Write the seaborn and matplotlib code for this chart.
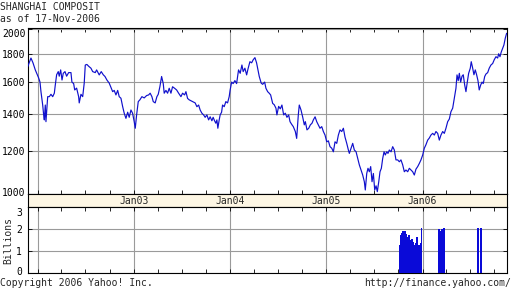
import numpy as np
import pandas as pd
import matplotlib
matplotlib.use("Agg")
import matplotlib.pyplot as plt
import matplotlib.dates as mdates
import matplotlib.ticker as mticker
from matplotlib.transforms import ScaledTranslation, blended_transform_factory
import seaborn as sns

sns.set_style("white")
plt.rcParams["font.family"] = ["DejaVu Sans Mono"]
plt.rcParams["font.size"] = 7

title = "SHANGHAI COMPOSIT"
subtitle = "as of 17-Nov-2006"
copyright_text = "Copyright 2006 Yahoo! Inc."
url_text = "http://finance.yahoo.com/"

# decimal-year time stamps and index closes
price_time = [
    2001.895, 2001.929, 2001.950, 2001.974, 2002.009, 2002.023, 2002.033, 2002.051, 2002.061, 2002.068,
    2002.078, 2002.085, 2002.103, 2002.120, 2002.137, 2002.155, 2002.172, 2002.182, 2002.196, 2002.213,
    2002.223, 2002.238, 2002.252, 2002.265, 2002.283, 2002.300, 2002.321, 2002.345, 2002.355, 2002.373,
    2002.384, 2002.404, 2002.425, 2002.431, 2002.449, 2002.467, 2002.483, 2002.494, 2002.511, 2002.529,
    2002.553, 2002.571, 2002.598, 2002.612, 2002.639, 2002.660, 2002.681, 2002.699, 2002.719, 2002.743,
    2002.779, 2002.795, 2002.813, 2002.831, 2002.847, 2002.865, 2002.883, 2002.899, 2002.917, 2002.935,
    2002.951, 2002.969, 2002.986, 2003.003, 2003.014, 2003.028, 2003.045, 2003.062, 2003.083, 2003.107,
    2003.132, 2003.153, 2003.169, 2003.187, 2003.201, 2003.221, 2003.239, 2003.253, 2003.270, 2003.288,
    2003.305, 2003.315, 2003.333, 2003.350, 2003.367, 2003.385, 2003.402, 2003.423, 2003.444, 2003.465,
    2003.489, 2003.506, 2003.527, 2003.541, 2003.558, 2003.575,
    2003.610, 2003.637, 2003.655, 2003.673, 2003.689, 2003.707, 2003.725, 2003.741, 2003.759, 2003.777,
    2003.793, 2003.811, 2003.824, 2003.839, 2003.852, 2003.863, 2003.873, 2003.887, 2003.897, 2003.912,
    2003.922, 2003.939, 2003.956, 2003.974, 2003.991, 2004.001, 2004.016, 2004.032, 2004.050, 2004.068,
    2004.088, 2004.105, 2004.123, 2004.136, 2004.154, 2004.172, 2004.188, 2004.206, 2004.224, 2004.240,
    2004.258, 2004.275, 2004.289, 2004.303, 2004.323, 2004.338, 2004.359, 2004.372, 2004.390, 2004.406,
    2004.421, 2004.442, 2004.458, 2004.476, 2004.486, 2004.504, 2004.521, 2004.538, 2004.556, 2004.573,
    2004.590, 2004.608, 2004.622, 2004.639, 2004.656, 2004.677, 2004.691, 2004.708, 2004.718, 2004.736,
    2004.754, 2004.770, 2004.781, 2004.798, 2004.816, 2004.833, 2004.850, 2004.864, 2004.882, 2004.899,
    2004.916, 2004.933, 2004.951, 2004.968, 2004.985, 2005.003, 2005.020, 2005.037, 2005.055, 2005.072,
    2005.089, 2005.107, 2005.124, 2005.141, 2005.159, 2005.176, 2005.193, 2005.211, 2005.228,
    2005.238, 2005.256, 2005.273, 2005.290, 2005.308, 2005.325, 2005.342, 2005.360, 2005.377, 2005.394,
    2005.404, 2005.419, 2005.432, 2005.446, 2005.460, 2005.474, 2005.488, 2005.502, 2005.516, 2005.529,
    2005.544, 2005.557, 2005.571, 2005.585, 2005.599, 2005.612, 2005.627, 2005.640, 2005.654, 2005.672,
    2005.689, 2005.706, 2005.723, 2005.741, 2005.758, 2005.775, 2005.793, 2005.810, 2005.827, 2005.845,
    2005.862, 2005.879, 2005.897, 2005.914, 2005.931, 2005.949, 2005.966, 2005.983, 2006.001, 2006.018,
    2006.035,
    2006.053, 2006.070, 2006.087, 2006.105, 2006.122, 2006.139, 2006.157, 2006.174, 2006.191, 2006.209,
    2006.226, 2006.243, 2006.261, 2006.278, 2006.295, 2006.313, 2006.330, 2006.347, 2006.358, 2006.371,
    2006.382, 2006.396, 2006.410, 2006.423, 2006.438, 2006.451, 2006.465, 2006.479, 2006.496, 2006.506,
    2006.521, 2006.534, 2006.548, 2006.562, 2006.576, 2006.589, 2006.604, 2006.618, 2006.631, 2006.646,
    2006.659, 2006.677, 2006.693, 2006.711, 2006.729, 2006.745, 2006.763, 2006.781, 2006.791, 2006.805,
    2006.818, 2006.833, 2006.846, 2006.860, 2006.874,
]
price_value = [
    1706, 1770, 1735, 1684, 1628, 1600, 1537, 1453, 1394, 1365,
    1453, 1355, 1505, 1505, 1520, 1505, 1527, 1580, 1650, 1672,
    1640, 1684, 1614, 1660, 1672, 1640, 1665, 1665, 1600, 1590,
    1548, 1560, 1505, 1466, 1520, 1505, 1593, 1719, 1723, 1710,
    1696, 1672, 1665, 1684, 1649, 1672, 1650, 1638, 1614, 1593,
    1537, 1545, 1516, 1545, 1505, 1495, 1443, 1404, 1374, 1410,
    1380, 1423, 1404, 1355, 1318, 1394, 1474, 1485, 1505, 1497,
    1512, 1516, 1527, 1505, 1474, 1466, 1505, 1520, 1569, 1638,
    1590, 1527, 1545, 1527, 1559, 1527, 1569, 1559, 1548, 1527,
    1505, 1527, 1516, 1537, 1494, 1485,
    1474, 1466, 1443, 1453, 1423, 1404, 1394, 1380, 1394, 1365,
    1383, 1360, 1380, 1360, 1346, 1365, 1318, 1365, 1394, 1410,
    1453, 1443, 1474, 1466, 1505, 1548, 1600, 1590, 1610, 1590,
    1684, 1660, 1719, 1672, 1696, 1649, 1696, 1743, 1735, 1757,
    1773, 1735, 1684, 1638, 1593, 1585, 1600, 1559, 1537, 1527,
    1516, 1463, 1455, 1434, 1394, 1445, 1430, 1453, 1394, 1404,
    1380, 1394, 1355, 1340, 1327, 1300, 1263, 1394, 1453, 1423,
    1380, 1337, 1355, 1309, 1318, 1337, 1346, 1365, 1383, 1355,
    1337, 1318, 1327, 1300, 1281, 1245, 1250, 1220, 1212, 1194,
    1245, 1237, 1281, 1309, 1300, 1318, 1270, 1237, 1203,
    1186, 1212, 1237, 1203, 1194, 1161, 1130, 1106, 1083, 1053,
    1017, 1090, 1114, 1098, 1122, 1053, 1090, 1017, 1035, 1010,
    1053, 1098, 1114, 1161, 1194, 1178, 1194, 1186, 1203, 1194,
    1220, 1203, 1154, 1154, 1145, 1154, 1130, 1098, 1106, 1098,
    1114, 1106, 1098, 1083, 1110, 1122, 1137, 1154, 1178, 1212,
    1230,
    1254, 1265, 1281, 1290, 1281, 1300, 1290, 1254, 1281, 1300,
    1290, 1318, 1355, 1370, 1413, 1434, 1494, 1559, 1649, 1610,
    1660, 1600, 1640, 1650, 1580, 1537, 1600, 1660, 1696, 1743,
    1696, 1650, 1684, 1650, 1610, 1548, 1580, 1600, 1590, 1638,
    1655, 1665, 1696, 1719, 1730, 1757, 1780, 1770, 1802, 1780,
    1815, 1845, 1870, 1924, 1964,
]

# volume (billions)
vol_time = [
    2005.765, 2005.775, 2005.786, 2005.796, 2005.807, 2005.817, 2005.827, 2005.838, 2005.848, 2005.859,
    2005.869, 2005.879, 2005.890, 2005.900, 2005.911, 2005.921, 2005.931, 2005.942, 2005.952, 2005.963,
    2005.973, 2005.983, 2005.991,
    2006.170, 2006.181, 2006.191, 2006.202, 2006.222,
    2006.576, 2006.607,
]
vol_value = [
    1.30, 1.75, 1.85, 1.90, 1.85, 1.90, 1.80, 1.57, 1.65, 1.72,
    1.50, 1.41, 1.55, 1.40, 1.30, 1.26, 1.35, 1.64, 1.25, 1.30,
    1.20, 1.35, 2.05,
    2.00, 1.80, 1.90, 2.00, 2.05,
    2.05, 2.05,
]

price_ticks = [1000, 1200, 1400, 1600, 1800, 2000]
vol_ticks = [0, 1, 2, 3]
year_label_years = [2003, 2004, 2005, 2006]
year_labels = ["Jan03", "Jan04", "Jan05", "Jan06"]
x_start, x_end = 2001.893, 2006.878


def to_dt(t):
    y = int(np.floor(t))
    a = pd.Timestamp(y, 1, 1)
    b = pd.Timestamp(y + 1, 1, 1)
    return a + (b - a) * (t - y)


LINE = "#1010cc"
GRID = "#9a9a9a"
BAND = "#fdf6e4"

W, H = 512, 288
fig = plt.figure(figsize=(W / 100, H / 100), dpi=100)
fig.patch.set_facecolor("white")
L, R = 27.5 / W, 507 / W
ax = fig.add_axes([L, 1 - 194 / H, R - L, (194 - 28) / H])
axb = fig.add_axes([L, 1 - 207 / H, R - L, 13 / H], sharex=ax)
axv = fig.add_axes([L, 1 - 273 / H, R - L, 66 / H], sharex=ax)

df = pd.DataFrame({"date": [to_dt(t) for t in price_time], "price": price_value})
sns.lineplot(data=df, x="date", y="price", ax=ax, color=LINE, lw=0.85,
             estimator=None, zorder=3)

vdf = pd.DataFrame({"date": [to_dt(t) for t in vol_time], "vol": vol_value})
axv.bar(vdf["date"], vdf["vol"], width=4.6, color="#0a0ad8", linewidth=0, zorder=3)

ax.set_yscale("log")
ax.set_ylim(1000, 2008)
ax.yaxis.set_major_locator(mticker.FixedLocator(price_ticks))
ax.yaxis.set_major_formatter(mticker.FixedFormatter([str(t) for t in price_ticks]))
ax.yaxis.set_minor_locator(mticker.NullLocator())
ax.set_xlim(to_dt(x_start), to_dt(x_end))
ax.xaxis.set_major_locator(mdates.YearLocator())
ax.xaxis.set_minor_locator(mdates.MonthLocator(bymonth=[4, 7, 10]))

axv.set_ylim(0, 3.02)
axv.yaxis.set_major_locator(mticker.FixedLocator(vol_ticks))
axv.yaxis.set_major_formatter(mticker.FixedFormatter([str(t) for t in vol_ticks]))

for a in (ax, axv, axb):
    a.set_xlabel("")
    a.set_ylabel("")
    for s in a.spines.values():
        s.set_visible(True)
        s.set_color("black")
        s.set_linewidth(0.8)

for a in (ax, axv):
    a.set_facecolor("white")
    a.grid(True, which="major", color=GRID, lw=0.8, zorder=1)
    a.tick_params(which="both", direction="in", top=True, right=True, left=True,
                  bottom=True, length=3, width=0.6, labelbottom=False,
                  labelsize=7, colors="black")
ax.tick_params(axis="y", pad=1.5)
axv.tick_params(axis="y", pad=4)

axb.set_facecolor(BAND)
axb.grid(False)
axb.tick_params(which="both", length=0, labelbottom=False, labelleft=False)
axb.set_yticks([])
tr = blended_transform_factory(axb.transData, axb.transAxes)
for yr, lab in zip(year_label_years, year_labels):
    axb.text(to_dt(yr), 0.5, lab, transform=tr, ha="center", va="center", fontsize=7)

fig.text(0, 1 - 7 / H, title, ha="left", va="center", fontsize=7)
fig.text(0, 1 - 19 / H, subtitle, ha="left", va="center", fontsize=7)
fig.text(0, 1 - 283 / H, copyright_text, ha="left", va="center", fontsize=7)
fig.text(511 / W, 1 - 283 / H, url_text, ha="right", va="center", fontsize=7)
fig.text(8 / W, 1 - 241 / H, "Billions", rotation=90, ha="center", va="center", fontsize=7)

fig.canvas.draw()
for lab in ax.get_yticklabels():
    if lab.get_text() == "2000":
        lab.set_transform(lab.get_transform() + ScaledTranslation(0, -4 / 100, fig.dpi_scale_trans))
    if lab.get_text() == "1000":
        lab.set_transform(lab.get_transform() + ScaledTranslation(0, 2 / 100, fig.dpi_scale_trans))
for lab in axv.get_yticklabels():
    if lab.get_text() == "3":
        lab.set_transform(lab.get_transform() + ScaledTranslation(0, -5 / 100, fig.dpi_scale_trans))
    if lab.get_text() == "0":
        lab.set_transform(lab.get_transform() + ScaledTranslation(0, 2 / 100, fig.dpi_scale_trans))

fig.savefig("out.png", dpi=100, facecolor="white")
